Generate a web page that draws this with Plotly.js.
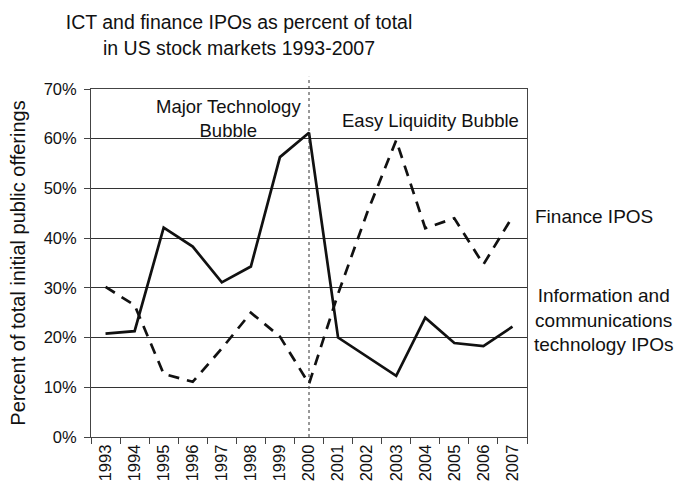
<!DOCTYPE html>
<html>
<head>
<meta charset="utf-8">
<script src="https://cdn.plot.ly/plotly-3.0.1.min.js"></script>
<style>html,body{margin:0;padding:0;background:#fff;}#chart{width:675px;height:491px;}</style>
</head>
<body>
<div id="chart"></div>
<script>
var years = [1993, 1994, 1995, 1996, 1997, 1998, 1999, 2000, 2001, 2002, 2003, 2004, 2005, 2006, 2007];
var yearLabels = ['1993','1994','1995','1996','1997','1998','1999','2000','2001','2002','2003','2004','2005','2006','2007'];
var ictValues = [20.8, 21.3, 42.1, 38.3, 31.1, 34.3, 56.3, 61.2, 20.0, 16.1, 12.3, 24.0, 18.9, 18.3, 22.2];
var financeValues = [30.2, 26.5, 12.7, 11.1, 17.8, 25.0, 20.2, 10.7, 28.8, 45.1, 59.7, 42.0, 44.0, 34.7, 44.3];
var yTicks = [0, 10, 20, 30, 40, 50, 60, 70];
var yTickLabels = ['0%', '10%', '20%', '30%', '40%', '50%', '60%', '70%'];
var dividerYear = 2000;

var fam = 'Liberation Sans, Arial, sans-serif';
var boundaries = years.map(function (y) { return y - 0.5; }).concat([years[years.length - 1] + 0.5]);

var traces = [
  {x: years, y: ictValues, type: 'scatter', mode: 'lines', name: 'Information and communications technology IPOs',
   line: {color: '#111', width: 2.7}},
  {x: years, y: financeValues, type: 'scatter', mode: 'lines', name: 'Finance IPOS',
   line: {color: '#111', width: 2.7, dash: '11px,8px'}}
];

var layout = {
  width: 675, height: 491,
  margin: {l: 91, r: 148, t: 89, b: 54},
  paper_bgcolor: '#fff', plot_bgcolor: '#fff',
  showlegend: false,
  font: {family: fam, color: '#111', size: 17},
  title: {text: 'ICT and finance IPOs as percent of total<br>in US stock markets 1993-2007',
    font: {family: fam, size: 19.5, color: '#111'},
    x: 239/675, xanchor: 'center', xref: 'container', yref: 'container', y: 0.94, yanchor: 'top'},
  xaxis: {range: [years[0] - 0.5, years[years.length - 1] + 0.5], tickmode: 'array', tickvals: years, ticktext: yearLabels,
    ticks: '', tickangle: -90, showgrid: false, zeroline: false,
    showline: true, linecolor: '#444', linewidth: 1, mirror: true, automargin: false,
    minor: {tickmode: 'array', tickvals: boundaries, ticks: 'outside', ticklen: 6, tickcolor: '#444', showgrid: false},
    tickfont: {family: fam, size: 16.5, color: '#111'}, fixedrange: true},
  yaxis: {range: [0, 70], tickmode: 'array', tickvals: yTicks, ticktext: yTickLabels, ticks: 'outside', ticklen: 6, tickcolor: '#444',
    showgrid: true, gridcolor: '#333', gridwidth: 1, showline: true, linecolor: '#444', linewidth: 1, mirror: true,
    zeroline: false, automargin: true, ticklabelstandoff: 4,
    tickfont: {family: fam, size: 16.5, color: '#111'},
    title: {text: 'Percent of total initial public offerings', standoff: 12, font: {family: fam, size: 20, color: '#111'}}},
  shapes: [
    {type: 'line', xref: 'x', yref: 'paper', x0: dividerYear, x1: dividerYear, y0: 0, y1: 1.035,
     line: {color: '#333', width: 1, dash: 'dot'}}
  ],
  annotations: [
    {text: 'Major Technology<br>Bubble', xref: 'paper', yref: 'paper', x: (228-91)/436, y: (437-119)/348,
     xanchor: 'center', yanchor: 'middle', showarrow: false, font: {family: fam, size: 18.5, color: '#111'}},
    {text: 'Easy Liquidity Bubble', xref: 'paper', yref: 'paper', x: (430-91)/436, y: (437-120)/348,
     xanchor: 'center', yanchor: 'middle', showarrow: false, font: {family: fam, size: 18.5, color: '#111'}},
    {text: 'Finance IPOS', xref: 'paper', yref: 'paper', x: (533-91)/436, y: (437-216)/348,
     xanchor: 'left', yanchor: 'middle', showarrow: false, font: {family: fam, size: 19, color: '#111'}},
    {text: 'Information and<br>communications<br>technology IPOs', xref: 'paper', yref: 'paper', x: (603-91)/436, y: (437-320)/348,
     xanchor: 'center', yanchor: 'middle', align: 'center', showarrow: false, font: {family: fam, size: 19, color: '#111'}}
  ]
};

Plotly.newPlot('chart', traces, layout, {displayModeBar: false, staticPlot: true});
</script>
</body>
</html>
